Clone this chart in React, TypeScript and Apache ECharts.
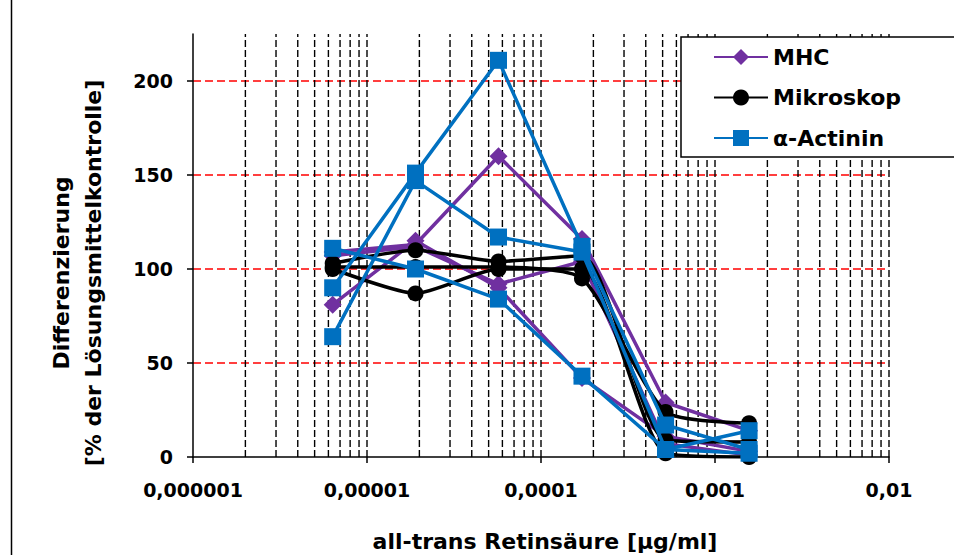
import React, { useEffect, useRef } from 'react';
import * as echarts from 'echarts';

// Concentrations of all-trans retinoic acid [µg/ml] (3-fold dilution series)
const concentrations = [6.35e-6, 1.9e-5, 5.7e-5, 1.72e-4, 5.2e-4, 1.57e-3];

// MHC replicates [% of solvent control]
const mhcRep1 = [109, 113, 160, 116, 29, 14];
const mhcRep2 = [81, 115, 90, 42, 11, 3];
const mhcRep3 = [107, 112, 92, 104, 7, 1];

// Mikroskop replicates
const mikRep1 = [103, 110, 104, 107, 9, 8];
const mikRep2 = [100, 87, 100, 100, 2, 0];
const mikRep3 = [101, 101, 101, 95, 24, 18];

// α-Actinin replicates
const actRep1 = [111, 100, 84, 43, 4, 14];
const actRep2 = [90, 151, 211, 112, 17, 4];
const actRep3 = [64, 147, 117, 109, 4, 2];

const yTicks = [0, 50, 100, 150, 200];
const yMax = 225;
const xTickLabels = ['0,000001', '0,00001', '0,0001', '0,001', '0,01'];
const verticalGridValues = [
  2e-6, 3e-6, 4e-6, 5e-6, 6e-6, 7e-6, 8e-6, 9e-6,
  1e-5, 2e-5, 3e-5, 4e-5, 5e-5, 6e-5, 7e-5, 8e-5, 9e-5,
  1e-4, 2e-4, 3e-4, 4e-4, 5e-4, 6e-4, 7e-4, 8e-4, 9e-4,
  1e-3, 2e-3, 3e-3, 4e-3, 5e-3, 6e-3, 7e-3, 8e-3, 9e-3,
  1e-2,
];

const FONT = '"DejaVu Sans", Arial, sans-serif';
const PURPLE = '#7030A0';
const BLACK = '#000000';
const BLUE = '#0070C0';

function makeSeries(
  name: string,
  values: number[],
  color: string,
  symbol: string,
  size: number,
  smooth: number | boolean,
  z: number
) {
  return {
    type: 'line',
    name,
    data: concentrations.map((c, i) => [c, values[i]]),
    symbol,
    symbolSize: size,
    smooth,
    z,
    lineStyle: { color, width: 3.5 },
    itemStyle: { color, borderWidth: 0 },
    emphasis: { disabled: true },
  };
}

export default function App() {
  const ref = useRef<HTMLDivElement>(null);

  useEffect(() => {
    if (!ref.current) return;
    const chart = echarts.init(ref.current, undefined, { renderer: 'svg' });

    const option: any = {
      animation: false,
      backgroundColor: '#ffffff',
      grid: { left: 193, right: 65, top: 34, bottom: 98, containLabel: false },
      legend: {
        orient: 'vertical',
        left: 681,
        top: 37,
        data: ['MHC', 'Mikroskop', 'α-Actinin'],
        itemWidth: 54,
        itemHeight: 20,
        itemGap: 18.5,
        padding: [9, 54, 8, 32],
        backgroundColor: '#ffffff',
        borderColor: '#000000',
        borderWidth: 1.5,
        borderRadius: 0,
        selectedMode: false,
        textStyle: {
          fontFamily: FONT,
          fontWeight: 'bold',
          fontSize: 22,
          lineHeight: 22,
          color: '#000',
        },
      },
      xAxis: {
        type: 'log',
        logBase: 10,
        min: 1e-6,
        max: 1e-2,
        axisLine: { show: true, lineStyle: { color: '#000', width: 1.5 } },
        axisTick: { show: true, length: 6, lineStyle: { color: '#000', width: 1.5 } },
        splitLine: { show: false },
        minorTick: { show: false },
        axisLabel: {
          margin: 23,
          fontFamily: FONT,
          fontWeight: 'bold',
          fontSize: 19,
          color: '#000',
          formatter: (v: number) => {
            const idx = Math.round(Math.log10(v)) + 6;
            return xTickLabels[idx] ?? '';
          },
        },
      },
      yAxis: {
        type: 'value',
        min: 0,
        max: yMax,
        interval: 50,
        axisLine: { show: true, lineStyle: { color: '#000', width: 1.5 } },
        axisTick: {
          show: true,
          length: 6,
          customValues: yTicks,
          lineStyle: { color: '#000', width: 1.5 },
        },
        axisLabel: {
          customValues: yTicks,
          margin: 20,
          fontFamily: FONT,
          fontWeight: 'bold',
          fontSize: 19,
          color: '#000',
        },
        splitLine: {
          show: true,
          showMinLine: false,
          lineStyle: { color: '#FF0000', width: 1.7, type: [8, 4] },
        },
      },
      graphic: [
        {
          type: 'line',
          shape: { x1: 11.5, y1: 0, x2: 11.5, y2: 555 },
          style: { stroke: '#000', lineWidth: 1.5 },
        },
        {
          type: 'text',
          x: 77,
          y: 273,
          rotation: Math.PI / 2,
          style: {
            text: 'Differenzierung\n[% der Lösungsmittelkontrolle]',
            font: `bold 22px ${FONT}`,
            fill: '#000',
            align: 'center',
            verticalAlign: 'middle',
            lineHeight: 32,
          },
        },
        {
          type: 'text',
          x: 545,
          y: 541,
          style: {
            text: 'all-trans Retinsäure [µg/ml]',
            font: `bold 22px ${FONT}`,
            fill: '#000',
            align: 'center',
            verticalAlign: 'middle',
          },
        },
      ],
      series: [
        {
          type: 'custom',
          name: 'grid-x',
          silent: true,
          z: 1,
          data: verticalGridValues.map((v) => [v, 0]),
          encode: { x: 0, y: 1 },
          renderItem: (_params: any, api: any) => {
            const x = api.value(0);
            const p1 = api.coord([x, 0]);
            const p2 = api.coord([x, yMax]);
            return {
              type: 'line',
              shape: { x1: p1[0], y1: p1[1], x2: p2[0], y2: p2[1] },
              style: { stroke: '#000', lineWidth: 1.4, lineDash: [7, 3] },
            };
          },
        },
        makeSeries('MHC', mhcRep1, PURPLE, 'diamond', 18, false, 3),
        makeSeries('MHC', mhcRep2, PURPLE, 'diamond', 18, false, 3),
        makeSeries('MHC', mhcRep3, PURPLE, 'diamond', 18, false, 3),
        makeSeries('Mikroskop', mikRep1, BLACK, 'circle', 16, 0.2, 4),
        makeSeries('Mikroskop', mikRep2, BLACK, 'circle', 16, 0.2, 4),
        makeSeries('Mikroskop', mikRep3, BLACK, 'circle', 16, 0.2, 4),
        makeSeries('α-Actinin', actRep1, BLUE, 'rect', 17, false, 5),
        makeSeries('α-Actinin', actRep2, BLUE, 'rect', 17, false, 5),
        makeSeries('α-Actinin', actRep3, BLUE, 'rect', 17, false, 5),
      ],
    };

    chart.setOption(option);
    return () => {
      chart.dispose();
    };
  }, []);

  return (
    <div
      ref={ref}
      style={{ position: 'absolute', left: 0, top: 0, width: 954, height: 555 }}
    />
  );
}
